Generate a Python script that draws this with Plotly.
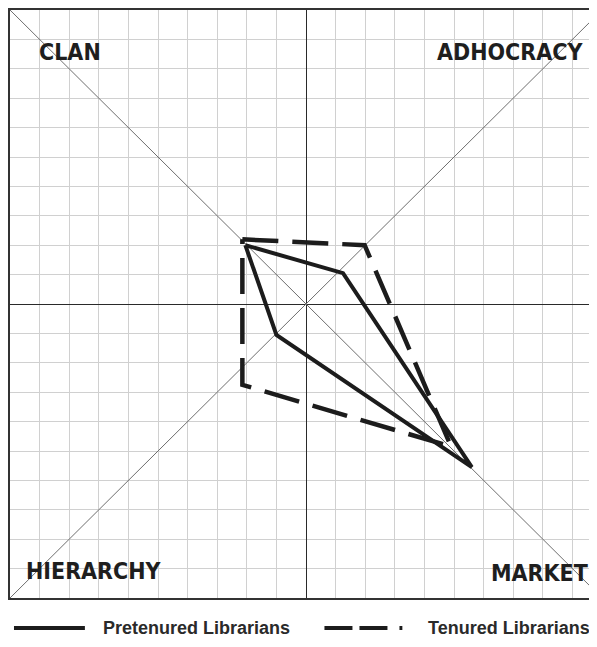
import plotly.graph_objects as go

# Competing values framework profile (culture types on the diagonals)
quadrants = ["Clan", "Adhocracy", "Market", "Hierarchy"]
pretenured_x = [-2.05, 1.25, 5.6, -1.0]
pretenured_y = [2.0, 1.05, -5.55, -1.05]
tenured_x = [-2.15, 1.98, 4.9, -2.15]
tenured_y = [2.2, 2.0, -4.85, -2.75]

corner_labels = ["CLAN", "ADHOCRACY", "HIERARCHY", "MARKET"]
series_names = ["Pretenured Librarians", "Tenured Librarians"]
LIMIT = 10

fig = go.Figure()

# diagonals of the framework
fig.add_trace(go.Scatter(x=[-LIMIT, LIMIT], y=[LIMIT, -LIMIT], mode="lines",
                         line=dict(color="#6e6e6e", width=1), hoverinfo="skip", showlegend=False))
fig.add_trace(go.Scatter(x=[-LIMIT, LIMIT], y=[-LIMIT, LIMIT], mode="lines",
                         line=dict(color="#6e6e6e", width=1), hoverinfo="skip", showlegend=False))

# profiles, closed back to the first quadrant
fig.add_trace(go.Scatter(
    x=pretenured_x + pretenured_x[:1], y=pretenured_y + pretenured_y[:1],
    text=quadrants + quadrants[:1], mode="lines", name=series_names[0],
    line=dict(color="#1c1c1c", width=4), showlegend=False))
fig.add_trace(go.Scatter(
    x=tenured_x + tenured_x[:1], y=tenured_y + tenured_y[:1],
    text=quadrants + quadrants[:1], mode="lines", name=series_names[1],
    line=dict(color="#1c1c1c", width=4.5, dash="36px,14px"), showlegend=False))

label_font = dict(family="DejaVu Sans Condensed, Liberation Sans, sans-serif",
                  size=23, color="#1e1e1e")
label_pos = [(0.046, 0.929, "left"), (0.98, 0.929, "right"),
             (0.024, 0.046, "left"), (0.988, 0.043, "right")]
for text, (px, py, anchor) in zip(corner_labels, label_pos):
    fig.add_annotation(x=px, y=py, xref="paper", yref="paper", text="<b>%s</b>" % text,
                       showarrow=False, xanchor=anchor, yanchor="middle", font=label_font)

# hand-made legend below the chart
fig.add_shape(type="line", xref="paper", yref="paper", x0=0.0068, x1=0.1276, y0=-0.051, y1=-0.051,
              line=dict(color="#1c1c1c", width=4))
fig.add_shape(type="line", xref="paper", yref="paper", x0=0.5357, x1=0.6684, y0=-0.051, y1=-0.051,
              line=dict(color="#1c1c1c", width=4, dash="28px,7px,28px,12px,3px"))
legend_font = dict(family="Liberation Sans, Arial, sans-serif", size=18, color="#2a2a2a")
for text, px in zip(series_names, [0.1548, 0.7092]):
    fig.add_annotation(x=px, y=-0.051, xref="paper", yref="paper", text="<b>%s</b>" % text,
                       showarrow=False, xanchor="left", yanchor="middle", font=legend_font)

axis_common = dict(dtick=1, showgrid=True, gridcolor="#d0d0d0", gridwidth=1,
                   zeroline=True, zerolinecolor="#2a2a2a", zerolinewidth=1.2,
                   showticklabels=False, ticks="", fixedrange=True)
fig.update_xaxes(range=[-LIMIT, 9.83], showline=True, linecolor="#333333", linewidth=1.6,
                 mirror=True, **axis_common)
fig.update_yaxes(range=[-LIMIT, LIMIT], showline=True, linecolor="#333333", linewidth=1.6,
                 mirror=False, **axis_common)

# the page adds an 8px body margin, so the figure is sized to fit inside the window
fig.update_layout(
    width=589, height=631,
    margin=dict(l=2, r=0, t=2, b=41),
    plot_bgcolor="white", paper_bgcolor="white",
    showlegend=False,
)

fig.write_html("out.html")
